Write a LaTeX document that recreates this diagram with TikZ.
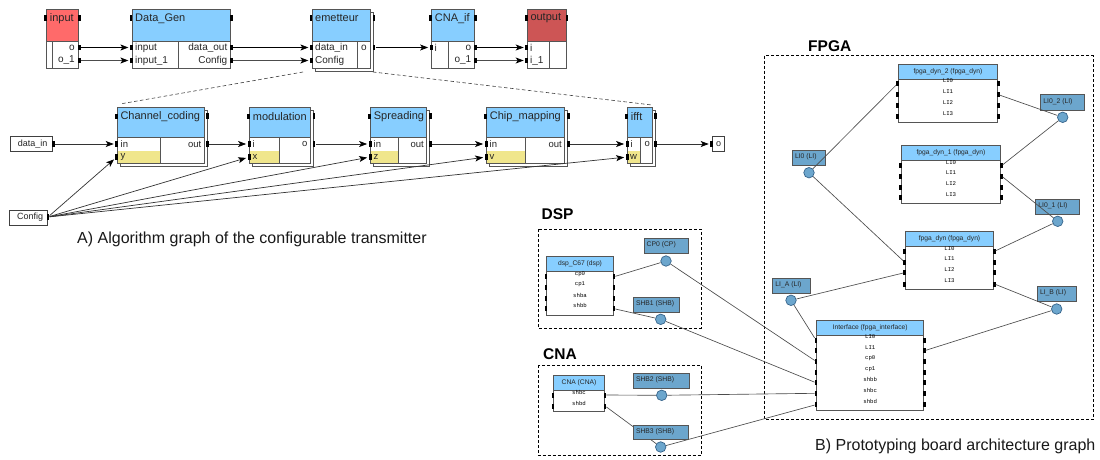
\documentclass[tikz,border=0pt]{standalone}
\usepackage{fontspec}
\setmainfont{Liberation Sans}
\newfontfamily\lblmono{Liberation Mono}
\usetikzlibrary{arrows.meta}
\definecolor{hdr}{HTML}{87CEFF}
\definecolor{khk}{HTML}{F0E68C}
\definecolor{redA}{HTML}{FF6A6A}
\definecolor{redB}{HTML}{CD5555}
\definecolor{steel}{HTML}{6CA6CD}
\definecolor{steelB}{HTML}{36648B}
\definecolor{edge}{HTML}{555555}
\tikzset{
 x=1pt,y=-1pt,
 algbox/.style={draw=edge,line width=0.9pt},
 algline/.style={draw=edge,line width=0.8pt},
 titlet/.style={inner sep=0pt,anchor=west,font=\fontsize{11}{11}\selectfont,text=black!85},
 ptop/.style={inner sep=0pt,font=\fontsize{10}{10}\selectfont,text=black!85},
 plow/.style={inner sep=0pt,font=\fontsize{9.5}{10}\selectfont,text=black!85},
 portst/.style={fill=black,inner sep=0pt,minimum width=2.8pt,minimum height=5.6pt,draw=none},
 wireA/.style={draw=black,line width=0.7pt,shorten >=1.5pt,-{Stealth[length=8pt,width=6pt,inset=2pt]}},
 wireB/.style={draw=black!70,line width=1.1pt,shorten >=1.5pt,-{Stealth[length=8pt,width=6pt,inset=2pt,color=black]}},
 wireC/.style={draw=black!80,line width=0.7pt,shorten >=1.5pt,-{Stealth[length=8pt,width=6pt,inset=2pt,color=black]}},
 ext/.style={draw=black!75,line width=0.8pt,fill=white,inner sep=0pt,font=\fontsize{9}{10}\selectfont,text=black!85},
 zoomline/.style={draw=black!75,line width=0.6pt,dash pattern=on 3.5pt off 2.5pt},
 group/.style={draw=black,line width=0.8pt,dash pattern=on 3pt off 2pt},
 grouptitle/.style={inner sep=0pt,anchor=west,font=\fontsize{15.5}{16}\bfseries\selectfont},
 caption/.style={inner sep=0pt,anchor=west,font=\fontsize{16}{18}\selectfont,text=black!90},
 brdbox/.style={draw=edge,line width=0.8pt},
 brdtitle/.style={inner sep=0pt,font=\fontsize{6.7}{7}\selectfont,text=black!85},
 brdport/.style={fill=black,inner sep=0pt,minimum width=2.2pt,minimum height=5pt},
 brdlbl/.style={inner sep=0pt,font=\lblmono\fontsize{5.7}{6}\selectfont,text=black},
 mediabox/.style={draw=edge,line width=0.8pt,fill=steel},
 medialbl/.style={inner sep=0pt,anchor=west,font=\fontsize{6.8}{7}\selectfont,text=black!85},
 circ/.style={circle,draw=steelB,line width=0.7pt,fill=steel,minimum size=10.5pt,inner sep=0pt},
 link/.style={draw=black!70,line width=0.65pt},
}
% name x1 x2 xdiv y1 yhead y2 fill title
\newcommand\algblk[9]{%
 \path[algbox,fill=#8] (#2,#5) rectangle (#3,#6);
 \path[algbox,fill=white] (#2,#6) rectangle (#3,#7);
 \draw[algline] (#4,#6) -- (#4,#7);
 \node[titlet] (#1-t) at ({#2+3},{#5+9}) {#9};
 \node[portst] (#1-hl) at ({#2-1},{#5+9}) {};
}
% x1 x2 y1 y2
\newcommand\algshadow[4]{\path[algbox,fill=white] ({#1+3},{#3+3}) rectangle ({#2+3},{#4+3});}
\newcommand\prt[3]{\node[portst] (#1) at (#2,#3) {};}
% name x1 x2 y1 yhead y2 title
\newcommand\brdblk[7]{%
 \path[brdbox,fill=white] (#2,#4) rectangle (#3,#6);
 \path[brdbox,fill=hdr] (#2,#4) rectangle (#3,#5);
 \node[brdtitle] (#1-t) at ({(#2+#3)/2},{(#4+#5)/2}) {#7};
}
% name x1 x2 list i/yport/label
\newcommand\brdports[4]{%
 \foreach \i/\yy/\txt in {#4}{
  \node[brdport] (#1-l\i) at ({#2-0.8},\yy) {};
  \node[brdport] (#1-r\i) at ({#3+0.8},\yy) {};
  \node[brdlbl] (#1-n\i) at ({(#2+#3)/2},{\yy-3}) {\txt};
 }
}
% name x1 x2 y1 y2 text
\newcommand\medbox[6]{%
 \path[mediabox] (#2,#4) rectangle (#3,#5);
 \node[medialbl] (#1-t) at ({#2+2.5},{(#4+#5)/2-1}) {#6};
}
\begin{document}
\begin{tikzpicture}
\fill[white] (0,0) rectangle (1100,460);
\useasboundingbox (0,0) rectangle (1100,460);
% ---- top row
\algblk{input}{46.7}{78.4}{52.3}{9.3}{41.7}{68}{redA}{input}
\algblk{dgen}{132}{230.5}{178}{9.3}{41.7}{68}{hdr}{Data\_Gen}
\algshadow{312}{370}{9.3}{68}
\algblk{emet}{312}{370}{357}{9.3}{41.7}{68}{hdr}{emetteur}
\algblk{cnaif}{431.7}{474.7}{448}{9.3}{41.7}{68}{hdr}{CNA\_if}
\algblk{outp}{527.3}{566}{549.3}{9.3}{41.7}{68}{redB}{output}
\prt{input-hr}{79.3}{18}\prt{dgen-hr}{231.5}{18}\prt{emet-hr}{374}{18}\prt{cnaif-hr}{475.7}{18}\prt{outp-hr}{567}{18}
\prt{input-o}{79.3}{47.5}\prt{input-o1}{79.3}{60.5}
\prt{dgen-i}{131.5}{47.5}\prt{dgen-i1}{131.5}{60.5}\prt{dgen-o}{231.5}{47.5}\prt{dgen-c}{231.5}{60.5}
\prt{emet-i}{311.5}{47.5}\prt{emet-c}{311.5}{60.5}\prt{emet-o}{374}{47.5}
\prt{cnaif-i}{431.2}{47.5}\prt{cnaif-o}{475.7}{47.5}\prt{cnaif-o1}{475.7}{60.5}
\prt{outp-i}{526.8}{47.5}\prt{outp-i1}{526.8}{60.5}
\node[ptop,anchor=east] (tx1) at (75,47.5) {o};
\node[ptop,anchor=east] (tx2) at (75,60.5) {o\_1};
\node[ptop,anchor=west] (tx3) at (135,47.5) {input};
\node[ptop,anchor=west] (tx4) at (135,60.5) {input\_1};
\node[ptop,anchor=east] (tx5) at (227.5,47.5) {data\_out};
\node[ptop,anchor=east] (tx6) at (227.5,60.5) {Config};
\node[ptop,anchor=west] (tx7) at (315,47.5) {data\_in};
\node[ptop,anchor=west] (tx8) at (315,60.5) {Config};
\node[ptop,anchor=east] (tx9) at (367,47.5) {o};
\node[ptop,anchor=west] (tx10) at (434.5,47.5) {i};
\node[ptop,anchor=east] (tx11) at (471.5,47.5) {o};
\node[ptop,anchor=east] (tx12) at (471.5,60.5) {o\_1};
\node[ptop,anchor=west] (tx13) at (530,47.5) {i};
\node[ptop,anchor=west] (tx14) at (530,60.5) {i\_1};
\draw[wireA] (input-o) -- (dgen-i);
\draw[wireB] (input-o1) -- (dgen-i1);
\draw[wireA] (dgen-o) -- (emet-i);
\draw[wireB] (dgen-c) -- (emet-c);
\draw[wireA] (emet-o) -- (cnaif-i);
\draw[wireA] (cnaif-o) -- (outp-i);
\draw[wireB] (cnaif-o1) -- (outp-i1);
% ---- zoom lines
\coordinate (zA) at (303,72);
\coordinate (zB) at (120,104);
\coordinate (zC) at (373,72);
\coordinate (zD) at (652,105);
\draw[zoomline] (zA) -- (zB);
\draw[zoomline] (zC) -- (zD);
% ---- second row
\algshadow{117.3}{204}{107.3}{163.3}
\algblk{chan}{117.3}{204}{160.3}{107.3}{137.7}{163.3}{hdr}{Channel\_coding}
\algshadow{249.7}{310.3}{107.3}{163.3}
\algblk{modu}{249.7}{310.3}{279.3}{107.3}{137.7}{163.3}{hdr}{modulation}
\algshadow{370.7}{426.7}{107.3}{163.3}
\algblk{spre}{370.7}{426.7}{398.3}{107.3}{137.7}{163.3}{hdr}{Spreading}
\algshadow{486.7}{564.7}{107.3}{163.3}
\algblk{chip}{486.7}{564.7}{525.3}{107.3}{137.7}{163.3}{hdr}{Chip\_mapping}
\algshadow{627.7}{652.3}{107.3}{163.3}
\algblk{ifft}{627.7}{652.3}{640.7}{107.3}{137.7}{163.3}{hdr}{ifft}
\foreach \a/\b in {117.8/159.8,250.2/278.8,371.2/397.8,487.2/524.8,628.2/640.2}{
 \fill[khk] (\a,150.5) rectangle (\b,162.9);
}
\prt{chan-hr}{207.8}{116}\prt{modu-hr}{314}{116}\prt{spre-hr}{430.3}{116}\prt{chip-hr}{568.3}{116}\prt{ifft-hr}{655.8}{116}
\prt{chan-i}{116.8}{144}\prt{chan-y}{116.8}{157}\prt{chan-o}{207.8}{144}
\prt{modu-i}{249.2}{144}\prt{modu-x}{249.2}{157}\prt{modu-o}{314}{144}
\prt{spre-i}{370.2}{144}\prt{spre-z}{370.2}{157}\prt{spre-o}{430.3}{144}
\prt{chip-i}{486.2}{144}\prt{chip-v}{486.2}{157}\prt{chip-o}{568.3}{144}
\prt{ifft-i}{627.2}{144}\prt{ifft-w}{627.2}{157}\prt{ifft-o}{655.8}{144}
\node[plow,anchor=west] (ty1) at (120.5,144) {in};
\node[plow,anchor=west] (ty2) at (120.5,157) {y};
\node[plow,anchor=east] (ty3) at (201.5,144) {out};
\node[plow,anchor=west] (ty4) at (252.5,144) {i};
\node[plow,anchor=west] (ty5) at (252.5,157) {x};
\node[plow,anchor=east] (ty6) at (307.5,144) {o};
\node[plow,anchor=west] (ty7) at (373.5,144) {in};
\node[plow,anchor=west] (ty8) at (373.5,157) {z};
\node[plow,anchor=east] (ty9) at (424,144) {out};
\node[plow,anchor=west] (ty10) at (489.5,144) {in};
\node[plow,anchor=west] (ty11) at (489.5,157) {v};
\node[plow,anchor=east] (ty12) at (562,144) {out};
\node[plow,anchor=west] (ty13) at (630.5,144) {i};
\node[plow,anchor=west] (ty14) at (630,157) {w};
\node[plow,anchor=east] (ty15) at (650,144) {o};
\node[ext,minimum width=42.3pt,minimum height=15pt] (xdata) at (31.2,144.2) {\hspace*{3pt}data\_in};
\node[ext,minimum width=38.3pt,minimum height=15.3pt] (xconf) at (28.2,217.6) {\hspace*{4pt}Config};
\node[ext,minimum width=11.6pt,minimum height=14.6pt] (xo) at (718.5,144) {o};
\prt{xdata-p}{53.3}{144}\prt{xconf-p}{48}{217}\prt{xo-p}{711.8}{144}
\draw[wireC] (xdata-p) -- (chan-i);
\draw[wireC] (chan-o) -- (modu-i);
\draw[wireC] (modu-o) -- (spre-i);
\draw[wireC] (spre-o) -- (chip-i);
\draw[wireC] (chip-o) -- (ifft-i);
\draw[wireC] (ifft-o) -- (xo-p);
\draw[wireC] (xconf-p) -- (chan-y);
\draw[wireC] (xconf-p) -- (modu-x);
\draw[wireC] (xconf-p) -- (spre-z);
\draw[wireC] (xconf-p) -- (chip-v);
\draw[wireC] (xconf-p) -- (ifft-w);
\node[caption] (capA) at (77,239.5) {A) Algorithm graph of the configurable transmitter};
% ---- groups
\node[grouptitle] (tDSP) at (541.5,214.5) {DSP};
\node[grouptitle] (tCNA) at (543,354.5) {CNA};
\node[grouptitle] (tFPGA) at (808,46) {FPGA};
\path[group] (538.3,229) rectangle (701,328);
\path[group] (538.3,365) rectangle (701,455.7);
\path[group] (764.7,55.7) rectangle (1093.3,419.3);
% ---- blocks
\brdblk{dsp}{546.7}{613.3}{256.7}{271.3}{315}{dsp\_C67 (dsp)}
\brdports{dsp}{546.7}{613.3}{0/276.7/cp0,1/287.7/cp1,2/298/shba,3/308.7/shbb}
\brdblk{cna}{553.7}{604.3}{375}{390.3}{411.3}{CNA (CNA)}
\brdports{cna}{553.7}{604.3}{0/395/shbc,1/406/shbd}
\brdblk{dyntwo}{898.3}{997.7}{64.3}{79}{122.3}{fpga\_dyn\_2 (fpga\_dyn)}
\brdports{dyntwo}{898.3}{997.7}{0/83.7/LI0,1/94.7/LI1,2/105.3/LI2,3/116.3/LI3}
\brdblk{dynone}{901.3}{1000.7}{145.7}{160.3}{203.3}{fpga\_dyn\_1 (fpga\_dyn)}
\brdports{dynone}{901.3}{1000.7}{0/165.7/LI0,1/176/LI1,2/187/LI2,3/197.5/LI3}
\brdblk{dyn}{905.3}{993.7}{231.7}{246.3}{289.7}{fpga\_dyn (fpga\_dyn)}
\brdports{dyn}{905.3}{993.7}{0/251.3/LI0,1/262/LI1,2/272.7/LI2,3/284/LI3}
\brdblk{intf}{816.7}{923.7}{320.3}{335}{410.3}{Interface (fpga\_interface)}
\brdports{intf}{816.7}{923.7}{0/340/LI0,1/350.7/LI1,2/361.3/cp0,3/372/cp1,4/382.7/shbb,5/393.3/shbc,6/404.7/shbd}
% ---- media
\medbox{cp}{644}{688.3}{238.7}{253.3}{CP0 (CP)}
\medbox{shbone}{633.3}{679.3}{297.3}{312.7}{SHB1 (SHB)}
\medbox{shbtwo}{633.3}{689.3}{373.3}{388.3}{SHB2 (SHB)}
\medbox{lizero}{792.3}{825.7}{150.3}{165.7}{LI0 (LI)}
\medbox{litwo}{1040.7}{1084.3}{94.7}{110}{LI0\_2 (LI)}
\medbox{lione}{1035.7}{1079.3}{199.3}{214}{LI0\_1 (LI)}
\medbox{lia}{772.7}{810.7}{278.7}{293.7}{LI\_A (LI)}
\medbox{lib}{1037.3}{1076}{286.7}{301.7}{LI\_B (LI)}
\node[circ] (ccp) at (666,261) {};
\node[circ] (cshbone) at (660.7,319.3) {};
\node[circ] (cshbtwo) at (661.7,395.3) {};
\node[circ] (cshbthree) at (660.7,447) {};
\node[circ] (clizero) at (809,172.7) {};
\node[circ] (clitwo) at (1062.7,117.3) {};
\node[circ] (clione) at (1057.7,221.3) {};
\node[circ] (clia) at (791,300.3) {};
\node[circ] (clib) at (1056.7,309) {};
% ---- links
\draw[link] (ccp) -- (dsp-r0);
\draw[link] (ccp) -- (intf-l2);
\draw[link] (cshbone) -- (dsp-r3);
\draw[link] (cshbone) -- (intf-l4);
\draw[link] (cshbtwo) -- (cna-r0);
\draw[link] (cshbtwo) -- (intf-l5);
\draw[link] (cshbthree) -- (cna-r1);
\draw[link] (cshbthree) -- (intf-l6);
\draw[link] (clizero) -- (dyntwo-l0);
\draw[link] (clizero) -- (dyn-l1);
\draw[link] (clitwo) -- (dyntwo-r1);
\draw[link] (clitwo) -- (dynone-r0);
\draw[link] (clione) -- (dynone-r1);
\draw[link] (clione) -- (dyn-r0);
\draw[link] (clia) -- (dyn-l2);
\draw[link] (clia) -- (intf-l0);
\draw[link] (clib) -- (dyn-r3);
\draw[link] (clib) -- (intf-r1);
\medbox{shbthree}{633.3}{688.7}{425}{439.7}{SHB3 (SHB)}
\node[caption] (capB) at (815,446.7) {B) Prototyping board architecture graph};
\end{tikzpicture}
\end{document}
